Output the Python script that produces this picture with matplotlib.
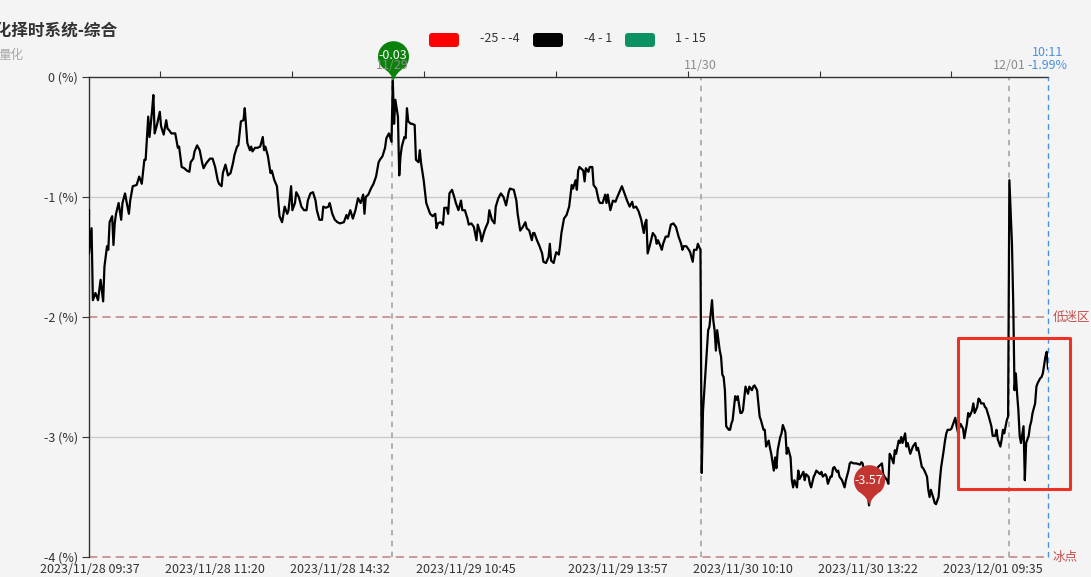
import numpy as np
import matplotlib
matplotlib.use('agg')
import matplotlib.pyplot as plt
from matplotlib.path import Path
from matplotlib.patches import FancyBboxPatch, Rectangle
from matplotlib.transforms import IdentityTransform, blended_transform_factory

plt.rcParams['font.family'] = ['Noto Sans CJK SC', 'DejaVu Sans']

title = '量化择时系统-综合'
subtitle = '量化'

# (trading-minute index, value %), one list per session day
day1 = [(0, -1.11), (0, -1.47), (2, -1.26), (3, -1.86), (5, -1.80), (7, -1.86), (9, -1.69),
        (11, -1.87), (12, -1.58), (14, -1.41), (15, -1.44), (16, -1.21), (18, -1.16), (19, -1.40),
        (20, -1.22), (21, -1.14), (23, -1.05), (25, -1.19), (26, -1.05), (28, -0.97), (29, -1.03),
        (31, -1.14), (32, -1.03), (34, -0.91), (37, -0.90), (39, -0.83), (41, -0.89), (43, -0.69),
        (44, -0.69), (46, -0.33), (47, -0.50), (49, -0.28), (50, -0.15), (51, -0.47), (53, -0.39),
        (55, -0.29), (56, -0.41), (58, -0.48), (60, -0.36), (61, -0.43), (62, -0.44), (64, -0.47),
        (67, -0.47), (69, -0.59), (70, -0.58), (72, -0.75), (74, -0.76), (76, -0.78), (78, -0.79),
        (79, -0.71), (81, -0.68), (82, -0.62), (84, -0.57), (86, -0.61), (88, -0.72), (89, -0.76),
        (91, -0.72), (94, -0.68), (96, -0.68), (98, -0.75), (100, -0.86), (101, -0.89), (103, -0.91),
        (104, -0.80), (106, -0.73), (108, -0.82), (110, -0.80), (112, -0.71), (113, -0.65),
        (115, -0.58), (116, -0.57), (118, -0.37), (120, -0.36), (121, -0.26), (123, -0.55),
        (125, -0.61), (126, -0.58), (127, -0.62), (129, -0.59), (131, -0.59), (133, -0.58),
        (135, -0.50), (136, -0.61), (137, -0.58), (139, -0.66), (141, -0.80), (142, -0.78),
        (144, -0.86), (146, -0.91), (147, -1.03), (148, -1.16), (150, -1.21), (152, -1.08),
        (154, -1.14), (155, -1.11), (157, -0.91), (158, -1.11), (160, -1.05), (161, -0.96),
        (163, -1.00), (165, -1.08), (167, -1.11), (169, -1.11), (170, -1.03), (172, -0.97),
        (174, -0.96), (176, -1.03), (177, -1.11), (179, -1.19), (181, -1.19), (182, -1.08),
        (184, -1.09), (186, -1.08), (187, -1.05), (189, -1.14), (191, -1.19), (193, -1.21),
        (195, -1.22), (198, -1.21), (200, -1.15), (201, -1.18), (203, -1.11), (205, -1.18),
        (207, -1.11), (209, -1.01), (211, -1.05), (213, -0.98), (214, -1.14), (215, -1.00),
        (217, -0.98), (219, -0.93), (221, -0.89), (223, -0.83), (225, -0.71), (226, -0.69),
        (228, -0.66), (230, -0.59), (231, -0.51), (233, -0.47), (235, -0.54)]

day2 = [(236, -0.03), (237, -0.39), (238, -0.19), (240, -0.33), (241, -0.82), (242, -0.66),
        (243, -0.58), (245, -0.50), (246, -0.51), (247, -0.26), (248, -0.37), (250, -0.39),
        (251, -0.39), (253, -0.40), (254, -0.69), (256, -0.71), (257, -0.61), (258, -0.72),
        (260, -0.86), (262, -1.05), (265, -1.14), (267, -1.16), (269, -1.14), (270, -1.26),
        (271, -1.22), (273, -1.21), (275, -1.23), (276, -1.09), (278, -1.09), (279, -1.14),
        (280, -0.97), (282, -0.94), (284, -1.01), (285, -1.05), (287, -1.11), (289, -1.03),
        (290, -1.11), (292, -1.11), (294, -1.18), (295, -1.23), (297, -1.22), (299, -1.25),
        (301, -1.36), (302, -1.23), (304, -1.30), (305, -1.37), (307, -1.29), (308, -1.26),
        (310, -1.21), (311, -1.11), (313, -1.19), (315, -1.22), (316, -1.08), (318, -1.01),
        (320, -0.97), (322, -1.00), (324, -1.07), (326, -0.96), (327, -0.93), (330, -0.94),
        (332, -1.03), (333, -1.14), (335, -1.28), (337, -1.25), (339, -1.21), (340, -1.26),
        (342, -1.28), (344, -1.36), (345, -1.30), (346, -1.30), (348, -1.36), (350, -1.41),
        (352, -1.47), (353, -1.54), (355, -1.55), (357, -1.50), (358, -1.39), (359, -1.53),
        (361, -1.55), (362, -1.50), (363, -1.46), (365, -1.48), (366, -1.40), (367, -1.30),
        (369, -1.18), (371, -1.15), (373, -1.08), (375, -0.90), (376, -0.93), (378, -0.86),
        (379, -0.94), (380, -0.78), (381, -0.75), (384, -0.78), (385, -0.87), (386, -0.76),
        (388, -0.79), (389, -0.75), (391, -0.75), (392, -0.90), (394, -0.93), (396, -1.03),
        (397, -1.05), (399, -1.05), (401, -0.98), (402, -1.05), (403, -0.98), (405, -1.11),
        (407, -1.03), (409, -1.04), (410, -1.01), (412, -0.96), (414, -0.91), (416, -0.97),
        (418, -1.03), (420, -1.08), (422, -1.04), (423, -1.09), (425, -1.08), (427, -1.12),
        (429, -1.19), (431, -1.30), (432, -1.22), (433, -1.19), (434, -1.47), (436, -1.39),
        (438, -1.30), (440, -1.33), (441, -1.39), (442, -1.36), (444, -1.41), (445, -1.44),
        (446, -1.39), (448, -1.33), (450, -1.33), (452, -1.23), (454, -1.22), (456, -1.25),
        (458, -1.33), (460, -1.39), (461, -1.44), (462, -1.41), (464, -1.41), (466, -1.44),
        (467, -1.46), (469, -1.54), (470, -1.44), (472, -1.44), (473, -1.39), (475, -1.44)]

day3 = [(476, -3.30), (477, -2.78), (478, -2.61), (480, -2.28), (481, -2.11), (482, -2.08),
        (484, -1.86), (485, -2.03), (486, -2.11), (487, -2.28), (488, -2.11), (490, -2.28),
        (491, -2.33), (492, -2.48), (493, -2.50), (494, -2.61), (495, -2.91), (497, -2.94),
        (498, -2.94), (499, -2.89), (500, -2.86), (502, -2.66), (503, -2.69), (504, -2.66),
        (506, -2.80), (507, -2.80), (508, -2.78), (510, -2.58), (511, -2.61), (512, -2.64),
        (513, -2.58), (515, -2.61), (516, -2.58), (517, -2.57), (519, -2.61), (520, -2.72),
        (521, -2.83), (522, -2.86), (524, -2.94), (525, -2.94), (526, -3.08), (528, -3.03),
        (529, -3.09), (530, -3.14), (532, -3.28), (533, -3.17), (534, -3.26), (535, -3.11),
        (537, -3.00), (538, -2.97), (539, -2.90), (541, -2.96), (542, -3.14), (543, -3.09),
        (545, -3.17), (546, -3.36), (547, -3.42), (548, -3.36), (550, -3.42), (551, -3.28),
        (552, -3.35), (554, -3.31), (555, -3.29), (556, -3.36), (557, -3.31), (559, -3.33),
        (560, -3.39), (561, -3.42), (563, -3.33), (564, -3.31), (565, -3.28), (566, -3.29),
        (568, -3.31), (569, -3.29), (570, -3.33), (572, -3.31), (573, -3.33), (574, -3.39),
        (576, -3.33), (577, -3.33), (578, -3.26), (579, -3.25), (581, -3.29), (582, -3.28),
        (583, -3.33), (585, -3.36), (586, -3.39), (587, -3.42), (588, -3.36), (590, -3.28),
        (591, -3.22), (592, -3.21), (594, -3.22), (596, -3.22), (599, -3.23), (600, -3.21),
        (601, -3.22), (604, -3.40), (606, -3.57), (608, -3.33), (610, -3.31), (613, -3.25),
        (616, -3.22), (617, -3.31), (618, -3.33), (620, -3.36), (621, -3.39), (622, -3.14),
        (623, -3.16), (625, -3.22), (626, -3.11), (627, -3.14), (629, -3.03), (630, -3.05),
        (631, -3.00), (632, -3.05), (634, -2.97), (635, -3.08), (636, -3.05), (638, -3.14),
        (639, -3.11), (640, -3.08), (642, -3.05), (643, -3.11), (644, -3.09), (645, -3.14),
        (647, -3.25), (648, -3.26), (649, -3.28), (651, -3.33), (652, -3.44), (653, -3.50),
        (654, -3.44), (656, -3.51), (657, -3.55), (658, -3.56), (660, -3.50), (661, -3.36),
        (662, -3.25), (664, -3.11), (665, -3.03), (666, -2.97), (667, -2.94), (669, -2.94),
        (670, -2.93), (671, -2.90), (673, -2.84), (674, -2.91), (675, -2.96), (677, -2.89),
        (678, -2.91), (679, -2.93), (680, -3.01), (682, -2.89), (683, -2.80), (684, -2.83),
        (686, -2.78), (687, -2.72), (688, -2.80), (690, -2.75), (691, -2.68), (692, -2.69),
        (693, -2.72), (695, -2.72), (696, -2.75), (697, -2.76), (699, -2.83), (700, -2.87),
        (701, -2.91), (702, -2.99), (704, -2.99), (705, -2.94), (706, -3.02), (708, -3.08),
        (709, -3.02), (710, -2.94), (711, -2.97), (713, -2.86), (714, -2.83)]

day4 = [(715, -0.86), (717, -1.39), (718, -1.89), (719, -2.61), (720, -2.47), (721, -2.64),
        (722, -2.78), (723, -2.99), (724, -3.05), (726, -2.91), (727, -3.36), (728, -3.05),
        (730, -2.99), (731, -2.91), (732, -2.87), (733, -2.80), (735, -2.72), (736, -2.58),
        (737, -2.55), (739, -2.51), (740, -2.50), (741, -2.47), (743, -2.33), (744, -2.29),
        (745, -2.43)]

bottom_labels = ['2023/11/28 09:37', '2023/11/28 11:20', '2023/11/28 14:32', '2023/11/29 10:45',
                 '2023/11/29 13:57', '2023/11/30 10:10', '2023/11/30 13:22', '2023/12/01 09:35']
bottom_pos = [1, 98, 195, 293, 411, 508, 605, 702]
day_start = [235.3, 475.3, 714.6]
day_names = ['11/29', '11/30', '12/01']
y_ticks = [0, -1, -2, -3, -4]
levels = [(-2, '低迷区'), (-4, '冰点')]
max_pt = (236, -0.03)
min_pt = (606, -3.57)
last_time, last_val = '10:11', '-1.99%'
pieces = ['-25 - -4', '-4 - 1', '1 - 15']
piece_colors = ['#ff0000', '#000000', '#0b9162']

t, v = zip(*(day1 + day2 + day3 + day4))

W, H = 1091, 577
bg = '#f4f4f4'
fig = plt.figure(figsize=(W / 100, H / 100), dpi=100, facecolor=bg)
ax = fig.add_axes([89 / W, 1 - 557 / H, (1048 - 89) / W, (557 - 77) / H])
ax.set_facecolor(bg)

ax.plot(t, v, color='black', lw=1.6, solid_joinstyle='round', zorder=4)
ax.set_xlim(0, 745)
ax.set_ylim(-4, 0)

# grid / levels
for g in [-1, -3]:
    ax.axhline(g, color='#cccccc', lw=1, zorder=1)
yt = blended_transform_factory(ax.transAxes, ax.transData)
for lv, name in levels:
    ax.axhline(lv, color='#c48a8a', lw=1.2, ls=(0, (5, 3)), zorder=2, clip_on=False)
    ax.text(1.005, lv, name, transform=yt, va='center', ha='left', color='#c0504d', fontsize=9)

for d, name in zip(day_start, day_names):
    ax.axvline(d, color='#aaaaaa', lw=1.3, ls=(0, (3, 3)), zorder=2)
    ax.annotate(name, (d, 0), xytext=(0, 8.5), textcoords='offset points', ha='center',
                va='center', color='#8c8c8c', fontsize=9, annotation_clip=False, zorder=8)
ax.axvline(745, color='#4a90e2', lw=1, ls=(0, (4, 3)), zorder=3, clip_on=False)
ax.annotate(last_time, (745, 0), xytext=(0, 17.5), textcoords='offset points', ha='center',
            va='center', color='#4a90e2', fontsize=9, annotation_clip=False)
ax.annotate(last_val, (745, 0), xytext=(-14.5, 8), textcoords='offset points', ha='left',
            va='center', color='#4a90e2', fontsize=9, annotation_clip=False)

# axes styling
for s in ['right', 'bottom']:
    ax.spines[s].set_visible(False)
for s in ['left', 'top']:
    ax.spines[s].set_color('#333333')
    ax.spines[s].set_linewidth(1)
ax.set_yticks(y_ticks)
ax.set_yticklabels([f'{k} (%)' for k in y_ticks])
ax.tick_params(axis='y', length=5, color='#333333', labelcolor='#333333', labelsize=9, pad=3)
ax.xaxis.tick_top()
ax.set_xticks(np.arange(55, 745, 102.5))
ax.set_xticklabels([])
ax.tick_params(axis='x', length=4, color='#333333')

sec = ax.secondary_xaxis('bottom')
sec.set_xticks(bottom_pos, labels=bottom_labels)
sec.tick_params(length=0, pad=4.5, labelsize=9, labelcolor='#333333')
sec.spines['bottom'].set_visible(False)

# pins for max / min (round head, thin curved tail)
c, r, a0 = 1.6, 1.0, 45
ang = np.radians(np.linspace(-90 + a0, 270 - a0, 60))
arc = [(r * np.cos(a), c + r * np.sin(a)) for a in ang]
verts = [(0, 0), (0.12, 0.55), arc[0]] + arc[1:] + [(-0.12, 0.55), (0, 0), (0, 0)]
codes = ([Path.MOVETO, Path.CURVE3, Path.CURVE3] + [Path.LINETO] * (len(arc) - 1)
         + [Path.CURVE3, Path.CURVE3, Path.CLOSEPOLY])
pin = Path(verts, codes)
for (px, pv), col in [(max_pt, '#0a820a'), (min_pt, '#c23531')]:
    ax.plot([px], [pv], marker=pin, markersize=58, color=col, mec='none', zorder=6,
            clip_on=False)
    ax.annotate(f'{pv:.2f}', (px, pv), xytext=(0, 17.8), textcoords='offset points',
                ha='center', va='center', color='white', fontsize=9, zorder=9,
                annotation_clip=False)

# highlight box
ax.add_patch(Rectangle((675, -3.433), 87, 1.258, fill=False, edgecolor='#ee3124', lw=2.2,
                       joinstyle='round', clip_on=False, zorder=5))

# title
fig.text(-22 / W, 1 - 31 / H, title, fontsize=12, fontweight='bold', color='#333333',
         ha='left', va='center')
fig.text(-2 / W, 1 - 56 / H, subtitle, fontsize=9, color='#aaaaaa', ha='left', va='center')

# visual map pieces
px_left = [429, 533, 625]
tx_left = [480, 584, 675]
for x0, tx0, col, lab in zip(px_left, tx_left, piece_colors, pieces):
    fig.add_artist(FancyBboxPatch((x0, H - 47), 30, 14, boxstyle='round,pad=0,rounding_size=3',
                                  facecolor=col, edgecolor='none', transform=IdentityTransform()))
    fig.text(tx0 / W, 1 - 39 / H, lab, fontsize=9, color='#333333', ha='left', va='center')

fig.savefig('out.png', dpi=100, facecolor=bg)
